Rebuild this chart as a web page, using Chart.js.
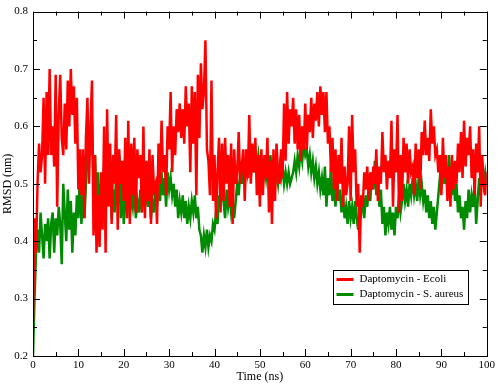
<!DOCTYPE html>
<html>
<head>
<meta charset="utf-8">
<script src="https://cdn.jsdelivr.net/npm/chart.js@4/dist/chart.umd.min.js"></script>
<style>
  html, body { margin: 0; padding: 0; background: #fff; }
  #wrap { width: 498px; height: 384px; }
</style>
</head>
<body>
<div id="wrap"><canvas id="rmsdChart"></canvas></div>
<script>
// RMSD traces, sampled every 1/3 ns from 0 to 100 ns (3 values per ns)
const timeStep = 1 / 3;

const ecoliRmsd = [
  0.26, 0.44, 0.38,  0.50, 0.57, 0.52,  0.55, 0.65, 0.50,  0.66, 0.55, 0.70,  0.55, 0.60, 0.53,
  0.69, 0.46, 0.62,  0.69, 0.58, 0.55,  0.64, 0.56, 0.68,  0.60, 0.70, 0.62,  0.67, 0.57, 0.65,
  0.49, 0.56, 0.48,  0.56, 0.44, 0.58,  0.65, 0.50, 0.60,  0.68, 0.41, 0.55,  0.38, 0.48, 0.39,
  0.52, 0.42, 0.60,  0.38, 0.63, 0.46,  0.57, 0.43, 0.55,  0.50, 0.62, 0.42,  0.56, 0.50, 0.54,
  0.47, 0.58, 0.44,  0.61, 0.43, 0.57,  0.48, 0.58, 0.45,  0.56, 0.51, 0.55,  0.45, 0.60, 0.44,
  0.54, 0.47, 0.56,  0.43, 0.55, 0.49,  0.50, 0.43, 0.57,  0.50, 0.61, 0.52,  0.55, 0.48, 0.60,
  0.56, 0.66, 0.52,  0.60, 0.55, 0.63,  0.59, 0.64, 0.58,  0.63, 0.57, 0.67,  0.60, 0.64, 0.52,
  0.67, 0.57, 0.66,  0.48, 0.69, 0.58,  0.71, 0.63, 0.66,  0.75, 0.56, 0.54,  0.48, 0.68, 0.47,
  0.55, 0.44, 0.52,  0.58, 0.45, 0.57,  0.47, 0.58, 0.50,  0.55, 0.46, 0.57,  0.43, 0.56, 0.50,
  0.52, 0.59, 0.50,  0.53, 0.56, 0.47,  0.56, 0.51, 0.62,  0.50, 0.57, 0.52,  0.58, 0.48, 0.55,
  0.46, 0.56, 0.48,  0.55, 0.51, 0.58,  0.45, 0.54, 0.43,  0.56, 0.47, 0.57,  0.52, 0.50, 0.56,
  0.51, 0.64, 0.54,  0.66, 0.57, 0.63,  0.60, 0.65, 0.57,  0.63, 0.56, 0.62,  0.54, 0.60, 0.56,
  0.64, 0.56, 0.62,  0.59, 0.65, 0.58,  0.64, 0.61, 0.66,  0.60, 0.67, 0.62,  0.66, 0.59, 0.66,
  0.57, 0.60, 0.52,  0.58, 0.49, 0.56,  0.47, 0.55, 0.50,  0.58, 0.46, 0.53,  0.48, 0.50, 0.60,
  0.47, 0.62, 0.52,  0.56, 0.46, 0.50,  0.38, 0.48, 0.46,  0.52, 0.49, 0.53,  0.47, 0.52, 0.49,
  0.53, 0.50, 0.56,  0.47, 0.53, 0.50,  0.59, 0.52, 0.55,  0.49, 0.54, 0.51,  0.61, 0.46, 0.56,
  0.52, 0.62, 0.45,  0.55, 0.47, 0.58,  0.52, 0.57, 0.50,  0.56, 0.52, 0.53,  0.48, 0.57, 0.51,
  0.56, 0.49, 0.59,  0.55, 0.61, 0.55,  0.58, 0.54, 0.63,  0.57, 0.60, 0.55,  0.56, 0.52, 0.55,
  0.48, 0.58, 0.51,  0.55, 0.47, 0.53,  0.46, 0.55, 0.49,  0.54, 0.50, 0.57,  0.52, 0.59, 0.51,
  0.61, 0.53, 0.58,  0.55, 0.60, 0.51,  0.56, 0.48, 0.57,  0.52, 0.60, 0.46,  0.55, 0.50, 0.48,
  0.52
];

const aureusRmsd = [
  0.20, 0.30, 0.38,  0.42, 0.38, 0.45,  0.41, 0.37, 0.43,  0.40, 0.44, 0.37,  0.43, 0.45, 0.38,
  0.44, 0.41, 0.46,  0.43, 0.36, 0.50,  0.45, 0.40, 0.49,  0.42, 0.47, 0.38,  0.45, 0.41, 0.48,
  0.44, 0.52, 0.43,  0.48, 0.44, 0.50,  0.55, 0.60, 0.55,  0.61, 0.50, 0.55,  0.46, 0.52, 0.44,
  0.50, 0.46, 0.53,  0.45, 0.50, 0.47,  0.54, 0.44, 0.49,  0.45, 0.52, 0.46,  0.55, 0.44, 0.50,
  0.43, 0.48, 0.45,  0.49, 0.44, 0.48,  0.46, 0.49, 0.44,  0.47, 0.45, 0.49,  0.45, 0.48, 0.46,
  0.50, 0.46, 0.48,  0.44, 0.47, 0.45,  0.49, 0.46, 0.50,  0.47, 0.52, 0.48,  0.51, 0.46, 0.52,
  0.49, 0.51, 0.48,  0.50, 0.46, 0.49,  0.44, 0.47, 0.45,  0.48, 0.44, 0.47,  0.43, 0.46, 0.44,
  0.47, 0.45, 0.48,  0.44, 0.46, 0.42,  0.41, 0.38, 0.41,  0.39, 0.42, 0.39,  0.41, 0.40, 0.43,
  0.42, 0.45, 0.43,  0.48, 0.46, 0.50,  0.47, 0.44, 0.49,  0.46, 0.48, 0.45,  0.47, 0.44, 0.47,
  0.50, 0.48, 0.52,  0.50, 0.54, 0.51,  0.55, 0.52, 0.54,  0.51, 0.55, 0.52,  0.56, 0.53, 0.55,
  0.52, 0.54, 0.50,  0.53, 0.51, 0.54,  0.52, 0.55, 0.51,  0.53, 0.50, 0.52,  0.50, 0.53, 0.51,
  0.53, 0.50, 0.52,  0.50, 0.52, 0.50,  0.51, 0.52, 0.54,  0.52, 0.55, 0.53,  0.56, 0.54, 0.57,
  0.55, 0.56, 0.53,  0.55, 0.52, 0.54,  0.51, 0.53, 0.50,  0.52, 0.49, 0.51,  0.48, 0.53, 0.46,
  0.51, 0.48, 0.53,  0.47, 0.50, 0.46,  0.52, 0.47, 0.49,  0.45, 0.48, 0.44,  0.46, 0.43, 0.47,
  0.44, 0.46, 0.43,  0.47, 0.44, 0.42,  0.46, 0.45, 0.48,  0.44, 0.48, 0.46,  0.50, 0.47, 0.52,
  0.49, 0.54, 0.48,  0.52, 0.46, 0.49,  0.43, 0.46, 0.41,  0.45, 0.43, 0.46,  0.42, 0.45, 0.41,
  0.46, 0.44, 0.48,  0.45, 0.47, 0.50,  0.47, 0.49, 0.46,  0.50, 0.48, 0.51,  0.48, 0.50, 0.47,
  0.51, 0.48, 0.50,  0.47, 0.49, 0.45,  0.48, 0.44, 0.47,  0.43, 0.46, 0.42,  0.45, 0.48, 0.51,
  0.49, 0.54, 0.50,  0.53, 0.49, 0.55,  0.51, 0.48, 0.52,  0.47, 0.50, 0.45,  0.48, 0.44, 0.46,
  0.42, 0.47, 0.44,  0.49, 0.45, 0.48,  0.46, 0.50, 0.43,  0.47, 0.51, 0.48,  0.53, 0.50, 0.52,
  0.50
];

const seriesLabels = ["Daptomycin - Ecoli", "Daptomycin - S. aureus"];
const seriesColors = ["#ff0000", "#008b00"];

const xTickLabels = [0, 10, 20, 30, 40, 50, 60, 70, 80, 90, 100];
const yTickLabels = [0.2, 0.3, 0.4, 0.5, 0.6, 0.7, 0.8];

const serifFont = "'Liberation Serif', 'Times New Roman', serif";

// turn the value list into {x, y} points along the time grid
function toPoints(values) {
  return values.map((v, i) => ({ x: i * timeStep, y: v }));
}

// frame + inward ticks on all four sides, like xmgrace
const framePlugin = {
  id: "frame",
  afterDatasetsDraw(chart) {
    const { ctx, chartArea: a, scales } = chart;
    const xs = scales.x, ys = scales.y;
    ctx.save();
    ctx.strokeStyle = "#000";
    ctx.lineWidth = 1;
    ctx.beginPath();
    // x ticks (major every 10, minor every 5)
    for (let v = 0; v <= 100; v += 5) {
      const px = Math.round(xs.getPixelForValue(v)) + 0.5;
      const len = v % 10 === 0 ? 7 : 4;
      ctx.moveTo(px, a.bottom); ctx.lineTo(px, a.bottom - len);
      ctx.moveTo(px, a.top); ctx.lineTo(px, a.top + len);
    }
    // y ticks (major every 0.1, minor every 0.05)
    for (let k = 0; k <= 12; k++) {
      const v = 0.2 + k * 0.05;
      const py = Math.round(ys.getPixelForValue(v)) + 0.5;
      const len = k % 2 === 0 ? 7 : 4;
      ctx.moveTo(a.left, py); ctx.lineTo(a.left + len, py);
      ctx.moveTo(a.right, py); ctx.lineTo(a.right - len, py);
    }
    ctx.stroke();
    ctx.strokeRect(Math.round(a.left) + 0.5, Math.round(a.top) + 0.5,
      Math.round(a.right - a.left), Math.round(a.bottom - a.top));
    ctx.restore();
  }
};

// legend box sitting inside the plot, lower right
const boxLegendPlugin = {
  id: "boxLegend",
  afterDraw(chart) {
    const { ctx } = chart;
    const bx = 333.5, by = 270.5, bw = 135, bh = 34;
    ctx.save();
    ctx.fillStyle = "#fff";
    ctx.fillRect(bx, by, bw, bh);
    ctx.strokeStyle = "#000";
    ctx.lineWidth = 1;
    ctx.strokeRect(bx, by, bw, bh);
    ctx.font = "11px " + serifFont;
    ctx.textBaseline = "middle";
    chart.data.datasets.forEach((ds, i) => {
      const yy = by + 9 + i * 15;
      ctx.strokeStyle = ds.borderColor;
      ctx.lineWidth = 3;
      ctx.beginPath();
      ctx.moveTo(bx + 3, yy);
      ctx.lineTo(bx + 20, yy);
      ctx.stroke();
      ctx.fillStyle = "#000";
      ctx.fillText(ds.label, bx + 26, yy);
    });
    ctx.restore();
  }
};

const ctx = document.getElementById("rmsdChart");

new Chart(ctx, {
  type: "line",
  data: {
    datasets: [
      {
        label: seriesLabels[0],
        data: toPoints(ecoliRmsd),
        borderColor: seriesColors[0],
        borderWidth: 2.5,
      },
      {
        label: seriesLabels[1],
        data: toPoints(aureusRmsd),
        borderColor: seriesColors[1],
        borderWidth: 2.5,
      },
    ],
  },
  options: {
    responsive: true,
    maintainAspectRatio: false,
    animation: false,
    elements: { point: { radius: 0 }, line: { tension: 0 } },
    layout: { padding: { top: 5, right: 9, left: 0, bottom: 0 } },
    plugins: {
      legend: { display: false },
      tooltip: { enabled: false },
    },
    scales: {
      x: {
        type: "linear",
        min: 0,
        max: 100,
        afterBuildTicks: (scale) => {
          scale.ticks = xTickLabels.map((v) => ({ value: v }));
        },
        afterFit: (scale) => { scale.height = 28; },
        grid: { display: false, drawTicks: false },
        border: { display: false },
        ticks: {
          color: "#000",
          padding: 3,
          maxRotation: 0,
          autoSkip: false,
          font: { family: serifFont, size: 11 },
          callback: (v) => String(v),
        },
        title: {
          display: true,
          text: "Time (ns)",
          color: "#000",
          padding: 0,
          font: { family: serifFont, size: 12 },
        },
      },
      y: {
        min: 0.2,
        max: 0.8,
        afterBuildTicks: (scale) => {
          scale.ticks = yTickLabels.map((v) => ({ value: v }));
        },
        afterFit: (scale) => { scale.width = 33; },
        grid: { display: false, drawTicks: false },
        border: { display: false },
        ticks: {
          color: "#000",
          padding: 5,
          autoSkip: false,
          font: { family: serifFont, size: 11 },
          callback: (v) => Number(v).toFixed(1),
        },
        title: {
          display: true,
          text: "RMSD (nm)",
          color: "#000",
          padding: 1,
          font: { family: serifFont, size: 12 },
        },
      },
    },
  },
  plugins: [framePlugin, boxLegendPlugin],
});
</script>
</body>
</html>
